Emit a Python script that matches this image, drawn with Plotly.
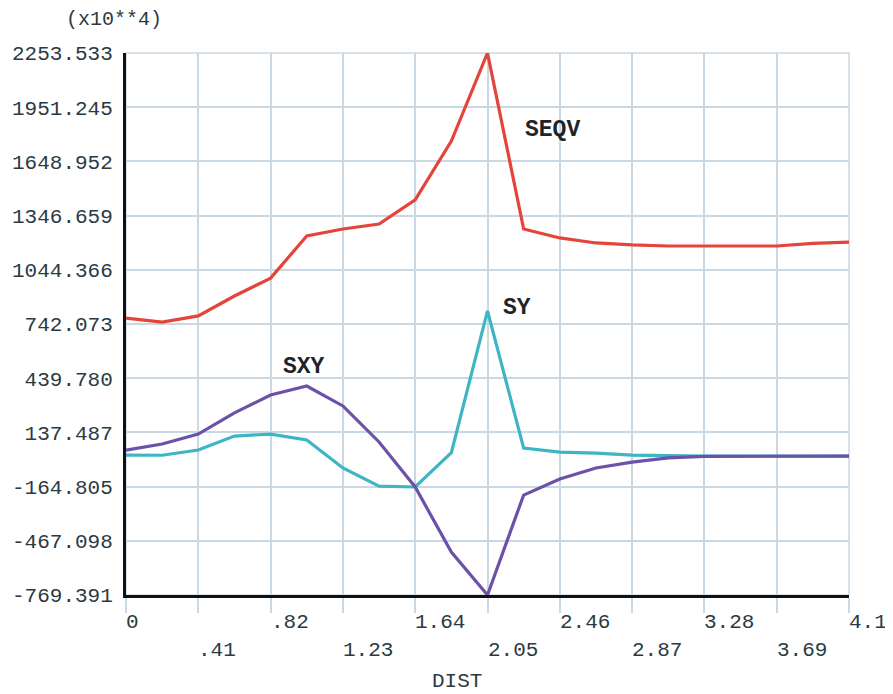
import plotly.graph_objects as go

dist = [0.0, 0.205, 0.41, 0.615, 0.82, 1.025, 1.23, 1.435, 1.64, 1.845, 2.05,
        2.255, 2.46, 2.665, 2.87, 3.075, 3.28, 3.485, 3.69, 3.895, 4.1]
seqv = [775, 753, 787, 898, 998, 1233, 1272, 1300, 1434, 1762, 2253.533,
        1272, 1222, 1194, 1183, 1177, 1177, 1177, 1177, 1192, 1199]
sy = [11, 10, 39, 117, 128, 95, -61, -162, -167, 24, 815,
      50, 28, 22, 11, 6, 5, 5, 5, 5, 5]
sxy = [39, 73, 128, 246, 346, 396, 285, 84, -167, -530, -769.391,
       -212, -122, -61, -28, -5, 4, 5, 5, 5, 5]

ytick_vals = [-769.391, -467.098, -164.805, 137.487, 439.780, 742.073,
              1044.366, 1346.659, 1648.952, 1951.245, 2253.533]
ytick_text = ["-769.391", "-467.098", "-164.805", "137.487", "439.780", "742.073",
              "1044.366", "1346.659", "1648.952", "1951.245", "2253.533"]
xtick_vals = [0, 0.41, 0.82, 1.23, 1.64, 2.05, 2.46, 2.87, 3.28, 3.69, 4.1]
xtick_text = ["0", ".41", ".82", "1.23", "1.64", "2.05", "2.46", "2.87", "3.28", "3.69", "4.1"]

series = [("SEQV", seqv, "#e5443b", 2.42, 1824),
          ("SY", sy, "#3db5c2", 2.217, 831),
          ("SXY", sxy, "#6c51a8", 1.01, 502)]

FONT = "Liberation Mono"
TXT = "#2b3a42"
GRID = "#c9d8e3"

fig = go.Figure()
for name, vals, color, lx, ly in series:
    fig.add_trace(go.Scatter(x=dist, y=vals, mode="lines", name=name,
                             line=dict(color=color, width=3.2), showlegend=False))
    fig.add_annotation(x=lx, y=ly, text="<b>%s</b>" % name, showarrow=False,
                       xanchor="center", yanchor="middle",
                       font=dict(family=FONT, size=23, color="#1e2428"))

for i, (v, t) in enumerate(zip(xtick_vals, xtick_text)):
    fig.add_annotation(x=v, y=-0.05 if i % 2 == 0 else -0.1015, xref="x", yref="paper",
                       text=t, showarrow=False, xanchor="left", yanchor="middle",
                       xshift=-2, font=dict(family=FONT, size=21, color=TXT))

fig.add_annotation(x=0.458, y=-0.159, xref="paper", yref="paper", text="DIST",
                   showarrow=False, xanchor="center", yanchor="middle",
                   font=dict(family=FONT, size=21, color=TXT))
fig.add_annotation(x=-0.016, y=1.0627, xref="paper", yref="paper", text="(x10**4)",
                   showarrow=False, xanchor="center", yanchor="middle",
                   font=dict(family=FONT, size=20, color=TXT))

fig.add_shape(type="rect", xref="paper", yref="paper", x0=0, y0=0, x1=1, y1=1,
              line=dict(color=GRID, width=1.5), layer="below")

fig.update_layout(
    width=885, height=686,
    margin=dict(l=118, r=44, t=45, b=99, autoexpand=False),
    paper_bgcolor="white", plot_bgcolor="white",
    xaxis=dict(range=[0, 4.1], tickvals=xtick_vals, showticklabels=False,
               showgrid=True, gridcolor=GRID, gridwidth=1.5, automargin=False,
               ticks="outside", ticklen=15, tickcolor=GRID, tickwidth=1.5,
               showline=True, linecolor="#111111", linewidth=3, zeroline=False),
    yaxis=dict(range=[-769.391, 2253.533], tickvals=ytick_vals, ticktext=ytick_text,
               showgrid=True, gridcolor=GRID, gridwidth=1.5, ticks="", automargin=False,
               ticklabelstandoff=6,
               tickfont=dict(family=FONT, size=21, color=TXT),
               showline=True, linecolor="#111111", linewidth=3, zeroline=False),
)

fig.write_html("out.html")
